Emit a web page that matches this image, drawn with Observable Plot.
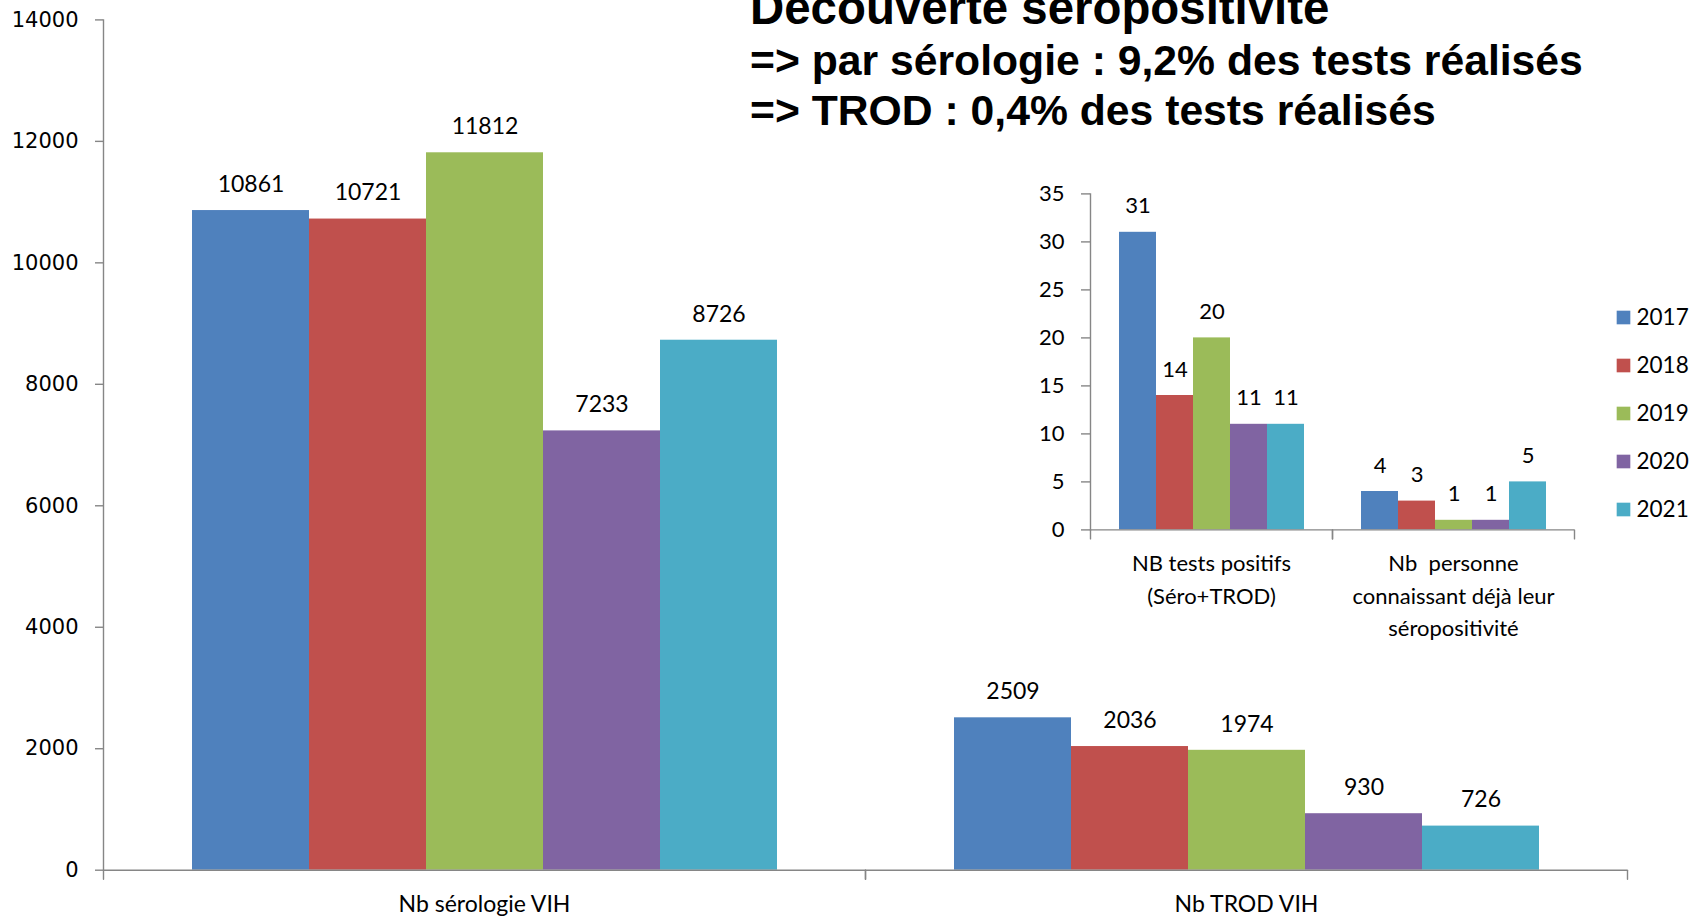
<!DOCTYPE html>
<html><head><meta charset="utf-8">
<script src="https://cdn.jsdelivr.net/npm/d3@7"></script>
<script src="https://cdn.jsdelivr.net/npm/@observablehq/plot@0.6"></script>
<style>
html,body{margin:0;padding:0;background:#fff;}
#root{position:relative;width:1694px;height:916px;overflow:hidden;background:#fff;}
#root > * {position:absolute;}
.tline{left:750px;font-family:"Liberation Sans",Arial,sans-serif;font-weight:bold;line-height:1;color:#000;white-space:nowrap;}
</style></head><body><div id="root"></div>
<script>
// ---- data ----
const years = ["2017", "2018", "2019", "2020", "2021"];
const colors = ["#4F81BD", "#C0504D", "#9BBB59", "#8064A2", "#4BACC6"];
const mainCategories = ["Nb sérologie VIH", "Nb TROD VIH"];
const serologieVIH = [10861, 10721, 11812, 7233, 8726];
const trodVIH = [2509, 2036, 1974, 930, 726];
const mainTicks = [0, 2000, 4000, 6000, 8000, 10000, 12000, 14000];
const insetCategories = ["NB tests positifs\n(Séro+TROD)", "Nb  personne\nconnaissant déjà leur\nséropositivité"];
const testsPositifs = [31, 14, 20, 11, 11];
const dejaConnus = [4, 3, 1, 1, 5];
const insetTicks = [0, 5, 10, 15, 20, 25, 30, 35];
const titleLines = ["Découverte séropositivité", "=> par sérologie : 9,2% des tests réalisés", "=> TROD : 0,4% des tests réalisés"];

// ---- tables ----
const mainSeries = [serologieVIH, trodVIH];
const mainData = mainCategories.flatMap((c, i) => years.map((y, j) => ({cat: c, year: y, value: mainSeries[i][j]})));
const insetSeries = [testsPositifs, dejaConnus];
const insetData = insetCategories.flatMap((c, i) => years.map((y, j) => ({cat: c, year: y, value: insetSeries[i][j]})));

const axisColor = "#868686";
const labelFont = "Lato, Carlito, Calibri, sans-serif";
const tickShape = {draw(context, l) { context.moveTo(0, 0); context.lineTo(0, -l); }};

const root = document.getElementById("root");

function groupedChart({data, cats, ticks, width, height, margins, tickFont, tickFontSize, tickPadding, tickSize, valueFontSize, catFontSize, catPadding, lineHeight}) {
  return Plot.plot({
    width, height,
    marginLeft: margins[0], marginRight: margins[1], marginTop: margins[2], marginBottom: margins[3],
    style: {background: "transparent", color: "#000", overflow: "visible"},
    fx: {domain: cats, padding: 0, axis: null, label: null},
    x: {domain: years, paddingInner: 0, paddingOuter: 0.75, axis: null, label: null},
    y: {domain: [ticks[0], ticks[ticks.length - 1]], axis: null, label: null},
    color: {domain: years, range: colors},
    marks: [
      Plot.barY(data, {fx: "cat", x: "year", y: "value", fill: "year", inset: 0}),
      Plot.ruleY([0], {stroke: axisColor, strokeWidth: 1.4}),
      Plot.frame({anchor: "left", fx: cats[0], stroke: axisColor, strokeWidth: 1.4}),
      Plot.axisY({ticks, tickSize, tickPadding, stroke: axisColor, strokeWidth: 1.4,
        fontSize: tickFontSize, fontFamily: tickFont, label: null, tickFormat: d => String(d)}),
      Plot.vector([0], {frameAnchor: "bottom-left", length: 9, rotate: 180, anchor: "start", shape: tickShape, stroke: axisColor, strokeWidth: 1.4}),
      Plot.vector([0], {frameAnchor: "bottom-right", length: 9, rotate: 180, anchor: "start", shape: tickShape, stroke: axisColor, strokeWidth: 1.4}),
      Plot.text(data, {fx: "cat", x: "year", y: "value", text: d => String(d.value), dy: -26, lineAnchor: "middle",
        fontSize: valueFontSize, fontFamily: labelFont, fill: "#000"}),
      Plot.text(cats, {fx: d => d, text: d => d, frameAnchor: "bottom", lineAnchor: "top", dy: catPadding,
        fontSize: catFontSize, fontFamily: labelFont, fill: "#000", lineHeight})
    ]
  });
}

const main = groupedChart({
  data: mainData, cats: mainCategories, ticks: mainTicks,
  width: 1694, height: 916, margins: [103, 67, 19.4, 46.3],
  tickFont: "DejaVu Sans, Verdana, sans-serif", tickFontSize: 21, tickPadding: 17, tickSize: 8,
  valueFontSize: 23, catFontSize: 23, catPadding: 19, lineHeight: 1.4
});
main.style.left = "0px"; main.style.top = "0px";
root.appendChild(main);

// title lines (HTML text above the chart): font sizes and baselines
const titleSizes = [47.4, 42.7, 42.7];
const titleBaselines = [24, 75, 125];
titleLines.forEach((t, i) => {
  const d = document.createElement("div");
  d.className = "tline";
  d.textContent = t;
  d.style.fontSize = titleSizes[i] + "px";
  d.style.top = (titleBaselines[i] - 0.8465 * titleSizes[i]) + "px";
  root.appendChild(d);
});

const inset = groupedChart({
  data: insetData, cats: insetCategories, ticks: insetTicks,
  width: 590, height: 490, margins: [89, 16, 23.4, 130.6],
  tickFont: labelFont, tickFontSize: 22, tickPadding: 17, tickSize: 9,
  valueFontSize: 22, catFontSize: 22, catPadding: 18, lineHeight: 1.48
});
inset.style.left = "1000px"; inset.style.top = "170px";
root.appendChild(inset);

const legend = Plot.plot({
  width: 86, height: 240, margin: 0,
  style: {background: "transparent", color: "#000", overflow: "visible"},
  y: {type: "band", domain: years, padding: 0, axis: null},
  color: {domain: years, range: colors},
  marks: [
    Plot.dot(years, {y: d => d, fill: d => d, symbol: "square", r: 7.7, frameAnchor: "left", dx: 15}),
    Plot.text(years, {y: d => d, text: d => d, frameAnchor: "left", dx: 28, textAnchor: "start",
      fontSize: 22.5, fontFamily: labelFont, fill: "#000"})
  ]
});
legend.style.left = "1608px"; legend.style.top = "292.5px";
root.appendChild(legend);
</script>
</body></html>
